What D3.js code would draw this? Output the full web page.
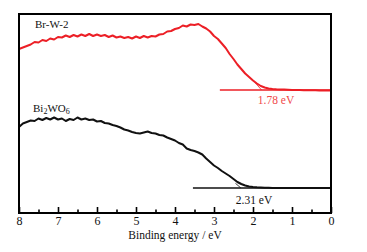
<!DOCTYPE html>
<html>
<head>
<meta charset="utf-8">
<script src="https://cdn.jsdelivr.net/npm/d3@7"></script>
<style>
  body { margin: 0; background: #fff; }
  text { font-family: "Liberation Serif", "Times New Roman", serif; }
</style>
</head>
<body>
<div id="chart"></div>
<script>
// binding energy grid (eV), shared by both spectra
const energy = [8.0, 7.9, 7.8, 7.7, 7.6, 7.5, 7.4, 7.3, 7.2, 7.1,
  7.0, 6.9, 6.8, 6.7, 6.6, 6.5, 6.4, 6.3, 6.2, 6.1,
  6.0, 5.9, 5.8, 5.7, 5.6, 5.5, 5.4, 5.3, 5.2, 5.1,
  5.0, 4.9, 4.8, 4.7, 4.6, 4.5, 4.4, 4.3, 4.2, 4.1,
  4.0, 3.9, 3.8, 3.7, 3.6, 3.5, 3.4, 3.3, 3.2, 3.1,
  3.0, 2.9, 2.8, 2.7, 2.6, 2.5, 2.4, 2.3, 2.2, 2.1,
  2.0, 1.9, 1.8, 1.7, 1.6, 1.5, 1.4, 1.3, 1.2, 1.1,
  1.0, 0.9, 0.8, 0.7, 0.6, 0.5, 0.4, 0.3, 0.2, 0.1, 0.0];

// intensity (a.u., offset) of Br-W-2
const brW2 = [164, 165.5, 167, 168.5, 171, 170.5, 173, 172, 174.5, 173.5,
  176, 175.5, 177.5, 176, 178, 176.5, 178.5, 177, 179, 177,
  178.5, 177, 178, 176, 177.5, 175.5, 176.5, 175, 176, 174.5,
  176.5, 175, 177, 175.5, 177, 176.5, 178.5, 179, 181.5, 182,
  184, 185, 187.5, 186.5, 188.5, 188, 189, 186.5, 184.5, 181.5,
  177, 174, 169.5, 165, 159, 154, 148.5, 144, 139.5, 136,
  132.5, 129.5, 127, 125.5, 124.5, 124, 123.7, 123.5, 123.4, 123.2,
  123, 123, 122.9, 122.8, 122.8, 122.7, 122.7, 122.6, 122.6, 122.6, 122.6];

// intensity (a.u.) of Bi2WO6
const bi2wo6 = [86, 89.5, 91, 92.5, 92, 94.5, 93, 95, 93.5, 95.5,
  93.5, 94.5, 92, 94, 93, 95.5, 93.5, 94.5, 93, 93.5,
  91.5, 92, 90, 89.5, 88, 87, 85.5, 83.5, 82.5, 81,
  80, 79.5, 80.5, 81.5, 80, 79.5, 78, 77.5, 75.5, 74,
  72.5, 70, 68.5, 64.5, 63, 62, 60.5, 58.5, 54.5, 51,
  47.5, 45, 42, 39.5, 37, 34, 31, 29, 27.5, 26.5,
  26, 25.7, 25.5, 25.3, 25.2, 25.1, 25, 25, 25, 25,
  25, 25, 25, 25, 25, 25, 25, 25, 25, 25, 25];

// band edge construction: baseline [E start, E end, level], tangent [E1, I1, E2, I2]
const redBase = [2.85, 0, 123];
const redTangent = [1.95, 130.5, 1.78, 123];
const blackBase = [3.54, 0, 25];
const blackTangent = [2.45, 29.7, 2.31, 25];

const labels = ["Br-W-2", "Bi2WO6", "1.78 eV", "2.31 eV"];
const xTicks = [8, 7, 6, 5, 4, 3, 2, 1, 0];
const xMinorTicks = [7.5, 6.5, 5.5, 4.5, 3.5, 2.5, 1.5, 0.5];

const W = 367, H = 252;
const margin = {top: 14, right: 36, bottom: 39, left: 19};
const red = "#ec1f26";

const svg = d3.select('#chart').append('svg')
    .attr('width', W)
    .attr('height', H);

const x = d3.scaleLinear()
    .domain([8, 0])
    .range([margin.left, W - margin.right]);
const y = d3.scaleLinear()
    .domain([0, 199])
    .range([H - margin.bottom, margin.top]);

const line = d3.line()
    .x(d => x(d[0]))
    .y(d => y(d[1]));

// ticks point inward (upward)
const bottom = svg.append("g")
    .attr("transform", "translate(0," + y(0) + ")")
    .call(d3.axisBottom(x).tickValues(xTicks).tickSizeInner(-6).tickSizeOuter(0).tickPadding(3.5))
    .call(g => g.select(".domain").remove());
svg.append("g")
    .attr("transform", "translate(0," + y(0) + ")")
    .call(d3.axisBottom(x).tickValues(xMinorTicks).tickSizeInner(-3.5).tickSizeOuter(0).tickFormat(""))
    .call(g => g.select(".domain").remove());

svg.selectAll(".tick line")
    .attr("stroke", "#000")
    .attr("stroke-width", 1.6);
bottom.selectAll("text")
    .attr("fill", "#111")
    .style("font-size", "12px")
    .style("font-family", "'Liberation Serif', serif");

// X-Axis Label
svg.append("text")
    .attr("x", 175)
    .attr("y", 239)
    .attr("text-anchor", "middle")
    .style("font-size", "11.5px")
    .attr("fill", "#111")
    .text("Binding energy / eV");

// spectra
svg.append("path")
    .datum(energy.map((e, i) => [e, brW2[i]]))
    .attr("d", line)
    .attr("fill", "none")
    .attr("stroke", red)
    .attr("stroke-width", 2)
    .attr("stroke-linejoin", "round");

svg.append("path")
    .datum(energy.map((e, i) => [e, bi2wo6[i]]))
    .attr("d", line)
    .attr("fill", "none")
    .attr("stroke", "#111")
    .attr("stroke-width", 2)
    .attr("stroke-linejoin", "round");

// baselines + tangents
function edge(base, tan, color) {
    svg.append("path")
        .datum([[base[0], base[2]], [base[1], base[2]]])
        .attr("d", line)
        .attr("fill", "none")
        .attr("stroke", color)
        .attr("stroke-width", 1.4);
    svg.append("path")
        .datum([[tan[0], tan[1]], [tan[2], tan[3]]])
        .attr("d", line)
        .attr("fill", "none")
        .attr("stroke", color)
        .attr("stroke-width", 0.8);
}
edge(redBase, redTangent, red);
edge(blackBase, blackTangent, "#111");

// sample labels
svg.append("text")
    .attr("x", 35).attr("y", 28)
    .style("font-size", "11px")
    .attr("fill", "#111")
    .text(labels[0]);

const bi = svg.append("text")
    .attr("x", 33).attr("y", 111.5)
    .style("font-size", "11px")
    .attr("fill", "#111");
bi.append("tspan").text("Bi");
bi.append("tspan").attr("dy", 2.5).style("font-size", "8px").text("2");
bi.append("tspan").attr("dy", -2.5).text("WO");
bi.append("tspan").attr("dy", 2.5).style("font-size", "8px").text("6");

svg.append("text")
    .attr("x", 276).attr("y", 103.5)
    .attr("text-anchor", "middle")
    .style("font-size", "11.5px")
    .attr("fill", "#f04a4a")
    .text(labels[2]);

svg.append("text")
    .attr("x", 254).attr("y", 203.5)
    .attr("text-anchor", "middle")
    .style("font-size", "11.5px")
    .attr("fill", "#111")
    .text(labels[3]);

// frame, drawn last so nothing sits on top of it
svg.append("rect")
    .attr("x", x(8))
    .attr("y", y(199))
    .attr("width", x(0) - x(8))
    .attr("height", y(0) - y(199))
    .attr("fill", "none")
    .attr("stroke", "#000")
    .attr("stroke-width", 2)
    .raise();
</script>
</body>
</html>
